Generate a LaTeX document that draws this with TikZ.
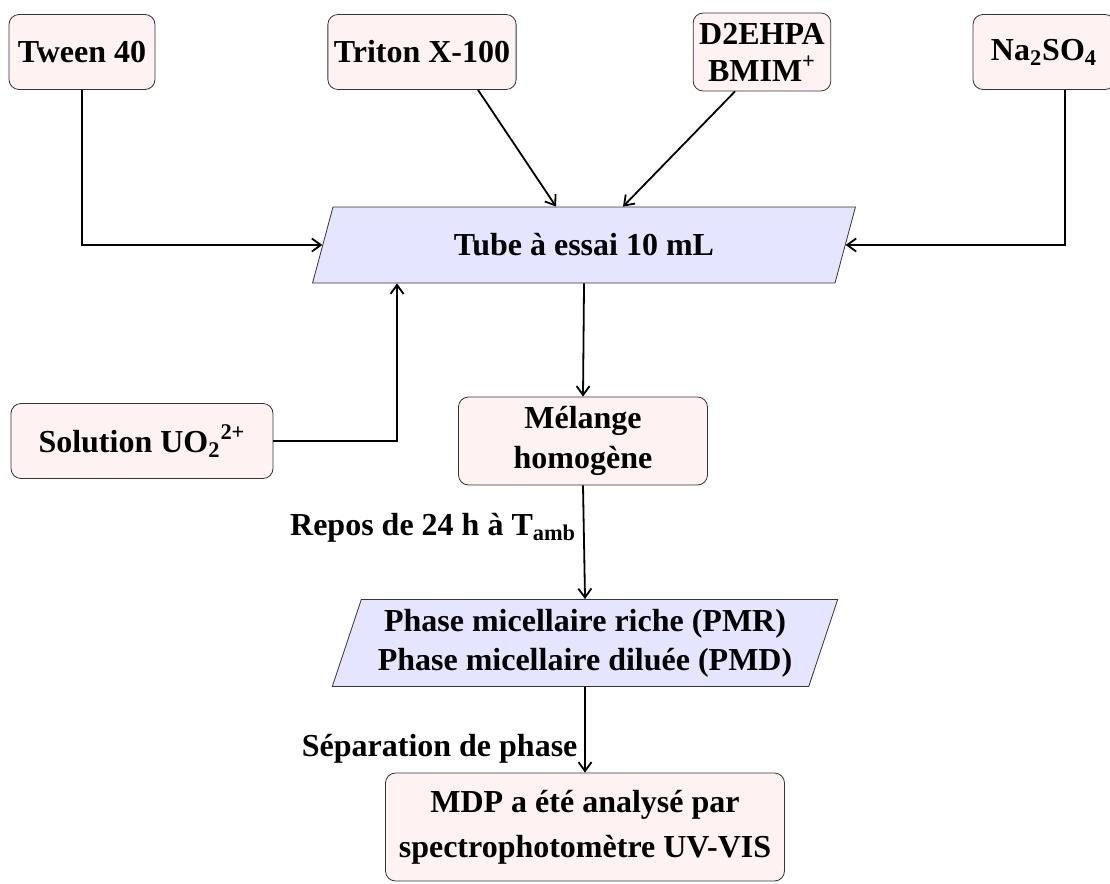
\documentclass[tikz,border=0pt]{standalone}
\usepackage{fontspec}
\setmainfont{Liberation Serif}
\usetikzlibrary{calc,shapes.geometric,arrows.meta}

\newcommand{\policegras}{\fontsize{16}{20}\selectfont\bfseries}

\tikzset{
  boite/.style={draw=black!80, rounded corners=5pt, fill=red!5, font=\policegras,
    align=center, inner xsep=3pt, inner ysep=3pt, minimum height=37.5pt},
  tube/.style={draw=black!80, trapezium, trapezium left angle=70, trapezium right angle=110,
    trapezium stretches=true, fill=blue!10, font=\policegras, align=center,
    inner ysep=2pt},
  lien/.style={line width=0.9pt, -{Straight Barb[length=4.5pt,width=6.5pt]}},
  etiq/.style={font=\policegras}
}

\begin{document}
\begin{tikzpicture}[x=0.5pt,y=-0.5pt]
  \useasboundingbox (0,0) rectangle (1110,884);
  %%%%% NOEUDS %%%%%
  \node[boite, minimum width=73pt] (tween) at (82,52) {Tween 40};
  \node[boite, minimum width=89.5pt] (triton) at (422,52) {Triton X-100};
  \node[boite, minimum height=39pt, minimum width=66pt,
    font=\fontsize{16}{18.5}\selectfont\bfseries] (d2ehpa) at (762,52) {D2EHPA\\BMIM\textsuperscript{+}};
  \node[boite, minimum width=71pt] (na) at (1044,52) {Na\textsubscript{2}SO\textsubscript{4}};

  \node[tube, minimum width=271.5pt, minimum height=38pt] (tubeessai) at (584,245) {Tube à essai 10 mL};

  \node[boite, minimum width=131pt] (sol) at (142,441) {Solution UO\textsubscript{2}\textsuperscript{2+}};
  \node[boite, minimum height=44pt, minimum width=124.5pt] (melange) at (583,441) {Mélange\\homogène};

  \node[tube, minimum width=253pt, minimum height=43.5pt,
    font=\fontsize{16}{19.5}\selectfont\bfseries] (phase) at (585,643)
    {Phase micellaire riche (PMR)\\Phase micellaire diluée (PMD)};

  \node[boite, minimum height=54pt, minimum width=199.5pt,
    font=\fontsize{16}{22.5}\selectfont\bfseries] (mdp) at (585,827)
    {MDP a été analysé par\\spectrophotomètre UV-VIS};

  %%%%% LIENS %%%%%
  \draw[lien] (tween.south) |- (tubeessai.west);
  \draw[lien] ($(triton.south)+(56,0)$) -- ($(tubeessai.north)+(-28,0)$);
  \draw[lien] ($(d2ehpa.south)+(-27,0)$) -- ($(tubeessai.north)+(39,0)$);
  \draw[lien] ($(na.south)+(21,0)$) |- (tubeessai.east);
  \draw[lien] (sol.east) -| ($(tubeessai.south)+(-187,0)$);
  \draw[lien] (tubeessai.south) -- (melange.north);
  \draw[lien] (melange.south) -- node[etiq, pos=0.37, left] {Repos de 24 h à T\textsubscript{amb}} (phase.north);
  \draw[lien] (phase.south) -- node[etiq, pos=0.72, left] {Séparation de phase} (mdp.north);
\end{tikzpicture}
\end{document}
